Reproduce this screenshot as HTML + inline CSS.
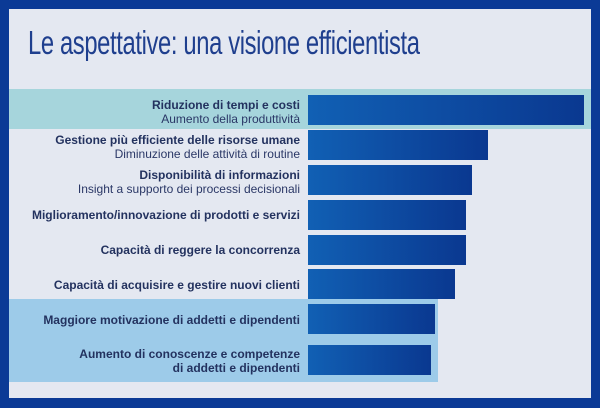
<!DOCTYPE html>
<html><head><meta charset="utf-8"><style>
body{margin:0;width:600px;height:408px;background:#0b3a96;position:relative;overflow:hidden;font-family:"Liberation Sans",sans-serif}
.in{position:absolute;left:9px;top:9px;width:582px;height:389px;background:#e4e8f1}
.t{position:absolute;left:28px;top:24px;font-size:33px;color:#1f3f8e;transform:scaleX(0.72);transform-origin:left top;white-space:nowrap;font-weight:300;letter-spacing:-0.5px}
.band{position:absolute}
.bar{position:absolute;left:308px;height:30px;background:linear-gradient(90deg,#1160b4,#0a3890)}
.l{position:absolute;right:300px;text-align:right;font-size:12px;color:#2a3766;line-height:14px;white-space:nowrap}
.l b{color:#23325f}
</style></head><body>
<div class="in"></div>
<div class="t">Le aspettative: una visione efficientista</div>
<div class="band" style="left:9px;top:89px;width:582px;height:40px;background:#a6d5dc"></div>
<div class="band" style="left:9px;top:299px;width:429px;height:83px;background:#9dcbe9"></div>
<div class="bar" style="top:95px;width:276px"></div>
<div class="bar" style="top:130px;width:180px"></div>
<div class="bar" style="top:165px;width:164px"></div>
<div class="bar" style="top:200px;width:158px"></div>
<div class="bar" style="top:235px;width:158px"></div>
<div class="bar" style="top:269px;width:147px"></div>
<div class="bar" style="top:304px;width:127px"></div>
<div class="bar" style="top:345px;width:123px"></div>
<div class="l" style="top:98px"><b>Riduzione di tempi e costi</b><br>Aumento della produttività</div>
<div class="l" style="top:133px"><b>Gestione più efficiente delle risorse umane</b><br>Diminuzione delle attività di routine</div>
<div class="l" style="top:168px"><b>Disponibilità di informazioni</b><br>Insight a supporto dei processi decisionali</div>
<div class="l" style="top:208px"><b>Miglioramento/innovazione di prodotti e servizi</b></div>
<div class="l" style="top:243px"><b>Capacità di reggere la concorrenza</b></div>
<div class="l" style="top:278px"><b>Capacità di acquisire e gestire nuovi clienti</b></div>
<div class="l" style="top:313px"><b>Maggiore motivazione di addetti e dipendenti</b></div>
<div class="l" style="top:347px"><b>Aumento di conoscenze e competenze<br>di addetti e dipendenti</b></div>
</body></html>
